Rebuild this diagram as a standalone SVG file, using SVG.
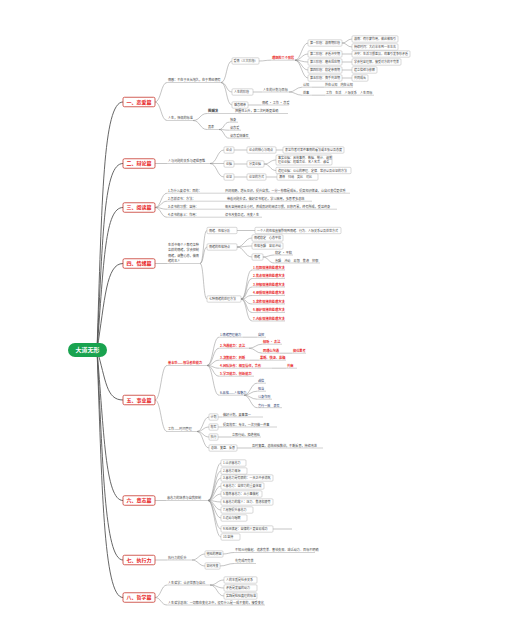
<svg xmlns="http://www.w3.org/2000/svg" width="509" height="641" viewBox="0 0 509 641">
<style>
text{font-family:"Noto Sans CJK SC","Noto Sans",sans-serif}
.K{fill:none;stroke:#555;stroke-width:.9}
.k{fill:none;stroke:#888;stroke-width:.5}
.u{stroke:#999;stroke-width:.45}
.bx{fill:#fff;stroke:#aaa;stroke-width:.45}
.mx{fill:#fff;stroke:#c8372d;stroke-width:.8}
.mt{font-size:5px;font-weight:bold;fill:#e8231e;text-anchor:middle}
.t{font-size:3px;fill:#444}
.tl{font-size:3.1px;fill:#444}
.r{font-size:3.2px;fill:#e8231e;font-weight:bold}
.n{font-size:3.1px;fill:#1f3a6e}
.b{font-size:3.4px;fill:#333;font-weight:bold}
</style>
<rect width="509" height="641" fill="#fff"/>
<g id="connectors">
<path class="K" d="M97 350C102 200 103 102 123 102"/>
<path class="K" d="M97 350C103 230 104 163.5 123 163.5"/>
<path class="K" d="M97 350C104 260 105 207.5 123 207.5"/>
<path class="K" d="M97 350C105 300 106 263.5 123 263.5"/>
<path class="K" d="M97 350C106 380 106 400 123 400"/>
<path class="K" d="M97 350C104 430 105 500.5 123 500.5"/>
<path class="K" d="M97 350C103 460 104 560 123 560"/>
<path class="K" d="M97 350C102 480 103 597.5 123 597.5"/>
<!-- 一 -->
<path class="k" d="M155 102C161 102 161 82.5 167 82.5M155 102C161 102 161 120.5 167 120.5"/>
<path class="k" d="M221 82.5C227 82.5 226 61 232 61M221 82.5C227 82.5 226 92 232 92M221 82.5C227 82.5 226 105 232 105"/>
<path class="k" d="M259 61C265 61 265 60.2 271 60.2"/>
<path class="k" d="M295 60.2C301 60.2 302 43 308 43M295 60.2C301 60.2 302 54 308 54M295 60.2C301 60.2 302 62 308 62M295 60.2C301 60.2 302 70 308 70M295 60.2C301 60.2 302 78 308 78"/>
<path class="k" d="M342 43C347 43 347 39 352 39M342 43C347 43 347 47 352 47M342 54H352M342 62H352M342 70H352M342 78H352"/>
<path class="k" d="M253 92H262M289 92C295 92 296 87.2 302 87.2M289 92C295 92 296 95.2 302 95.2M312 87.2H324M312 95.2H325M248 105H261"/>
<path class="k" d="M193 120.5C200 120.5 200 113.5 207 113.5M193 120.5C200 120.5 200 129.5 207 129.5"/>
<path class="k" d="M219 129.5C224 129.5 224 122.2 229 122.2M219 129.5C224 129.5 224 130.2 229 130.2M219 129.5C224 129.5 224 138.2 229 138.2"/>
<!-- 二 -->
<path class="k" d="M155 163.5H167M210 163.5C217 163.5 217 150 224 150M210 163.5H224M210 163.5C217 163.5 217 177 224 177"/>
<path class="k" d="M234 150H247M276 150H283M234 164H247M264 164C270 164 270 160 276 160M264 164C270 164 270 170.5 276 170.5M234 177H247M266 177H277"/>
<!-- 三 -->
<path class="k" d="M155 207.5C161 207.5 161 193.2 167 193.2M155 207.5C161 207.5 161 201.2 167 201.2M155 207.5C161 207.5 161 209.2 167 209.2M155 207.5C161 207.5 161 217.2 167 217.2"/>
<!-- 四 -->
<path class="k" d="M155 263.5H167M200 263.5C204 263.5 203 230.5 207 230.5M200 263.5C204 263.5 203 247 207 247M200 263.5C204 263.5 203 299 207 299"/>
<path class="k" d="M237 230.5H255M237 247C244 247 245 238 252 238M237 247C244 247 245 246 252 246M237 247C244 247 245 257 252 257"/>
<path class="k" d="M263 257C268 257 269 255 274 255M263 257C268 257 269 263 274 263"/>
<path class="k" d="M241 299C247 299 246 270 252 270M241 299C247 299 246 278.5 252 278.5M241 299C247 299 246 287 252 287M241 299C247 299 246 295.5 252 295.5M241 299C247 299 246 304 252 304M241 299C247 299 246 312.5 252 312.5M241 299C247 299 246 321 252 321"/>
<!-- 五 -->
<path class="k" d="M155 400C161 400 161 365.5 167 365.5M155 400C161 400 161 431.5 167 431.5"/>
<path class="k" d="M207 365.5C213 365.5 213 337.2 219 337.2M207 365.5C213 365.5 213 348.2 219 348.2M207 365.5C213 365.5 213 360.2 219 360.2M207 365.5C213 365.5 213 368.2 219 368.2M207 365.5C213 365.5 213 376.2 219 376.2M207 365.5C213 365.5 213 395.2 219 395.2"/>
<path class="k" d="M243 337.2H257M249 348.2C255 348.2 256 344.2 262 344.2M249 348.2C255 348.2 256 353.2 262 353.2M280 353.2H292M250 360.2H259M272 368.2H286"/>
<path class="k" d="M244 395.2C250 395.2 251 383.2 257 383.2M244 395.2C250 395.2 251 391.2 257 391.2M244 395.2C250 395.2 251 399.2 257 399.2M244 395.2C250 395.2 251 407.7 257 407.7"/>
<path class="k" d="M197 431.5C203 431.5 203 417 209 417M197 431.5C203 431.5 203 427 209 427M197 431.5C203 431.5 203 437 209 437M197 431.5C203 431.5 203 448 209 448"/>
<path class="k" d="M218 417H222M218 427H222M218 437H231M237 448H251"/>
<!-- 六 -->
<path class="k" d="M155 500.5H166"/>
<path class="k" d="M208 500.5C214 500.5 215 463 221 463M208 500.5C214 500.5 215 471 221 471M208 500.5C214 500.5 215 478 221 478M208 500.5C214 500.5 215 486 221 486M208 500.5C214 500.5 215 494 221 494M208 500.5C214 500.5 215 502 221 502M208 500.5C214 500.5 215 510 221 510M208 500.5C214 500.5 215 518 221 518M208 500.5C214 500.5 215 529 221 529M208 500.5C214 500.5 215 537 221 537M273 529H292"/>
<!-- 七 -->
<path class="k" d="M155 560H167M192 560C198 560 199 554 205 554M192 560C198 560 199 566 205 566M223 554C228 554 229 552.5 234 552.5M220 566C226 566 228 563.5 234 563.5"/>
<!-- 八 -->
<path class="k" d="M155 597.5C161 597.5 161 585 167 585M155 597.5C161 597.5 161 605 167 605"/>
<path class="k" d="M210 585C217 585 217 580 224 580M210 585C217 585 217 588 224 588M210 585C217 585 217 596 224 596"/>
</g>

<g id="n-root"><rect x="68" y="343" width="39" height="14" rx="7" fill="#19a34f"/><text x="87.5" y="352.2" font-size="6" font-weight="bold" fill="#fff" text-anchor="middle">大道无形</text></g>

<g id="n-1"><rect class="mx" x="123" y="97.25" width="32" height="9.5" rx="1.5"/><text class="mt" x="139" y="103.8">一、恋爱篇</text></g>
<g id="n-1-a"><text class="tl" x="168" y="81.3">情感：不在于天长地久，在于曾经拥有</text><line class="u" x1="167" y1="82.5" x2="221" y2="82.5"/></g>
<g id="n-1-a-1"><rect class="bx" x="232" y="57.8" width="27" height="6.4" rx="1"/><text class="t" x="233.5" y="62.1">爱情（三大阶段）</text></g>
<g id="n-1-a-1-r"><text class="r" x="272" y="59">理想的三个阶段</text><line class="u" x1="271" y1="60.2" x2="295" y2="60.2"/></g>
<g id="n-1-s1"><rect class="bx" x="308" y="39.8" width="34" height="6.4" rx="1"/><text class="t" x="310" y="44.1">第一阶段：激情期阶段</text></g>
<g id="n-1-s2"><rect class="bx" x="308" y="50.8" width="34" height="6.4" rx="1"/><text class="t" x="310" y="55.1">第二阶段：矛盾冲突期</text></g>
<g id="n-1-s3"><rect class="bx" x="308" y="58.8" width="34" height="6.4" rx="1"/><text class="t" x="310" y="63.1">第三阶段：磨合适应期</text></g>
<g id="n-1-s4"><rect class="bx" x="308" y="66.8" width="34" height="6.4" rx="1"/><text class="t" x="310" y="71.1">第四阶段：稳定亲情期</text></g>
<g id="n-1-s5"><rect class="bx" x="308" y="74.8" width="34" height="6.4" rx="1"/><text class="t" x="310" y="79.1">第五阶段：携手共进期</text></g>
<g id="n-1-s1a"><rect class="bx" x="352" y="35.8" width="46" height="6.4" rx="1"/><text class="t" x="354" y="40.1">激情：荷尔蒙作用，彼此被吸引</text></g>
<g id="n-1-s1b"><rect class="bx" x="352" y="43.8" width="46" height="6.4" rx="1"/><text class="t" x="354" y="48.1">持续时间：大约半年到一年左右</text></g>
<g id="n-1-s2a"><rect class="bx" x="352" y="50.8" width="58" height="6.4" rx="1"/><text class="t" x="354" y="55.1">冲突：生活习惯差异，琐事引发争吵矛盾</text></g>
<g id="n-1-s3a"><rect class="bx" x="352" y="58.8" width="49" height="6.4" rx="1"/><text class="t" x="354" y="63.1">学会包容理解，接受对方的不完美</text></g>
<g id="n-1-s4a"><rect class="bx" x="352" y="66.8" width="25" height="6.4" rx="1"/><text class="t" x="354" y="71.1">建立信任与依赖</text></g>
<g id="n-1-s5a"><rect class="bx" x="352" y="74.8" width="16" height="6.4" rx="1"/><text class="t" x="354" y="79.1">共同成长</text></g>
<g id="n-1-a-2"><rect class="bx" x="232" y="88.8" width="21" height="6.4" rx="1"/><text class="t" x="234" y="93.1">人生的阶段</text></g>
<g id="n-1-a-2a"><text class="tl" x="263" y="90.8">人生的计划与目标</text><line class="u" x1="262" y1="92" x2="289" y2="92"/></g>
<g id="n-1-a-2b"><text class="tl" x="303" y="86">认知</text><line class="u" x1="302" y1="87.2" x2="312" y2="87.2"/><text class="tl" x="325" y="86">外在认知　内在认知</text><line class="u" x1="324" y1="87.2" x2="353" y2="87.2"/></g>
<g id="n-1-a-2c"><text class="tl" x="303" y="94">处事</text><line class="u" x1="302" y1="95.2" x2="312" y2="95.2"/><text class="tl" x="326" y="94">工作　生活　人际关系　人生目标</text><line class="u" x1="325" y1="95.2" x2="374" y2="95.2"/></g>
<g id="n-1-a-3"><rect class="bx" x="232" y="101.8" width="16" height="6.4" rx="1"/><text class="t" x="234" y="106.1">婚恋相亲</text></g>
<g id="n-1-a-3a"><text class="tl" x="262" y="103.8">情绪 · 工作 · 恋爱</text><line class="u" x1="261" y1="105" x2="289" y2="105"/></g>
<g id="n-1-b"><text class="tl" x="168" y="119.3">人生，择偶的标准</text><line class="u" x1="167" y1="120.5" x2="193" y2="120.5"/></g>
<g id="n-1-b-1"><text class="b" x="208" y="112.3">图解法</text><text class="tl" x="235" y="112.3" font-size="3.4">把握性上升，第二次判断更准确</text><line class="u" x1="207" y1="113.5" x2="288" y2="113.5"/></g>
<g id="n-1-b-2"><text class="tl" x="208" y="128.3">其表</text><line class="u" x1="207" y1="129.5" x2="219" y2="129.5"/></g>
<g id="n-1-b-2a"><text class="tl" x="230" y="121">独身</text><line class="u" x1="229" y1="122.2" x2="238" y2="122.2"/></g>
<g id="n-1-b-2b"><text class="tl" x="230" y="129">谈恋爱</text><line class="u" x1="229" y1="130.2" x2="241" y2="130.2"/></g>
<g id="n-1-b-2c"><text class="tl" x="230" y="137">谈恋爱结婚率</text><line class="u" x1="229" y1="138.2" x2="250" y2="138.2"/></g>

<g id="n-2"><rect class="mx" x="123" y="158.75" width="32" height="9.5" rx="1.5"/><text class="mt" x="139" y="165.3">二、辩论篇</text></g>
<g id="n-2-a"><text class="tl" x="168" y="162.3">人与问题的关系与逻辑思维</text><line class="u" x1="167" y1="163.5" x2="210" y2="163.5"/></g>
<g id="n-2-1"><rect class="bx" x="224" y="146.8" width="10" height="6.4" rx="1"/><text class="t" x="226" y="151.1">论点</text></g>
<g id="n-2-1a"><rect class="bx" x="247" y="146.8" width="29" height="6.4" rx="1"/><text class="t" x="249" y="151.1">论点的核心与观点</text></g>
<g id="n-2-1b"><rect class="bx" x="283" y="146.8" width="61" height="6.4" rx="1"/><text class="t" x="285" y="151.1">表达作者对某件事情的看法或主张以及态度</text></g>
<g id="n-2-2"><rect class="bx" x="224" y="160.8" width="10" height="6.4" rx="1"/><text class="t" x="226" y="165.1">论据</text></g>
<g id="n-2-2a"><rect class="bx" x="247" y="160.8" width="17" height="6.4" rx="1"/><text class="t" x="249" y="165.1">分类论据</text></g>
<g id="n-2-2b"><rect class="bx" x="276" y="155" width="56" height="10" rx="1"/><text class="t" x="278" y="159">事实论据：具体事例、数据、统计、调查</text><text class="t" x="278" y="163.3">理论论据：权威言论、名人名言、谚语</text></g>
<g id="n-2-2c"><rect class="bx" x="276" y="167.3" width="75" height="6.4" rx="1"/><text class="t" x="278" y="171.6">道理论据：公认的原理、定律、常识以及论证的方法</text></g>
<g id="n-2-3"><rect class="bx" x="224" y="173.8" width="10" height="6.4" rx="1"/><text class="t" x="226" y="178.1">论证</text></g>
<g id="n-2-3a"><rect class="bx" x="247" y="173.8" width="19" height="6.4" rx="1"/><text class="t" x="249" y="178.1">论证的方式</text></g>
<g id="n-2-3b"><rect class="bx" x="277" y="173.8" width="41" height="6.4" rx="1"/><text class="t" x="279" y="178.1">演绎　归纳　类比　对比</text></g>

<g id="n-3"><rect class="mx" x="123" y="202.75" width="32" height="9.5" rx="1.5"/><text class="mt" x="139" y="209.3">三、阅读篇</text></g>
<g id="n-3-1"><text class="tl" x="168" y="192">1.为什么要读书：目的：</text><text class="tl" x="225" y="192">开阔视野，增长见识，提升自我，一分一秒都是成长，提高知识储备，让自己变得更优秀</text><line class="u" x1="167" y1="193.2" x2="350" y2="193.2"/></g>
<g id="n-3-2"><text class="tl" x="168" y="200">2.怎样读书：方法：</text><text class="tl" x="227" y="200">带着问题去读，做好读书笔记，学以致用，多思考多总结</text><line class="u" x1="167" y1="201.2" x2="312" y2="201.2"/></g>
<g id="n-3-3"><text class="tl" x="168" y="208">3.读书的习惯：坚持：</text><text class="tl" x="225" y="208">每天坚持阅读半小时，养成良好的阅读习惯，日积月累，终有所成，受益终身</text><line class="u" x1="167" y1="209.2" x2="337" y2="209.2"/></g>
<g id="n-3-4"><text class="tl" x="168" y="216">4.读书的意义：作用：</text><text class="tl" x="225" y="216">读书改变命运，改变人生</text><line class="u" x1="167" y1="217.2" x2="262" y2="217.2"/></g>

<g id="n-4"><rect class="mx" x="123" y="258.75" width="32" height="9.5" rx="1.5"/><text class="mt" x="139" y="265.3">四、情绪篇</text></g>
<g id="n-4-a"><text class="tl" x="168" y="246">生活中每个人都有各种</text><text class="tl" x="168" y="251.4">各样的情绪，学会控制</text><text class="tl" x="168" y="256.8">情绪，调整心态，做情</text><text class="tl" x="168" y="262.2">绪的主人</text><line class="u" x1="167" y1="263.5" x2="200" y2="263.5"/></g>
<g id="n-4-1"><rect class="bx" x="207" y="227.3" width="30" height="6.4" rx="1"/><text class="t" x="209" y="231.6">情绪、性格分析</text></g>
<g id="n-4-1a"><rect class="bx" x="255" y="227.3" width="86" height="6.4" rx="1"/><text class="t" x="257" y="231.6">一个人的性格直接影响到情绪、行为、人际关系以及处世方式</text></g>
<g id="n-4-2"><rect class="bx" x="207" y="243.8" width="30" height="6.4" rx="1"/><text class="t" x="209" y="248.1">情绪的性格特点</text></g>
<g id="n-4-2a"><rect class="bx" x="252" y="234.8" width="31" height="6.4" rx="1"/><text class="t" x="254" y="239.1">情绪稳定　心态平和</text></g>
<g id="n-4-2b"><rect class="bx" x="252" y="242.8" width="31" height="6.4" rx="1"/><text class="t" x="254" y="247.1">性格急躁　容易冲动</text></g>
<g id="n-4-2c"><rect class="bx" x="252" y="253.8" width="11" height="6.4" rx="1"/><text class="t" x="254" y="258.1">情绪</text></g>
<g id="n-4-2c1"><text class="tl" x="275" y="253.8">稳定 · 平和</text><line class="u" x1="274" y1="255" x2="293" y2="255"/></g>
<g id="n-4-2c2"><text class="tl" x="275" y="261.8">急躁　冲动　易怒　焦虑　抑郁</text><line class="u" x1="274" y1="263" x2="320" y2="263"/></g>
<g id="n-4-3"><rect class="bx" x="207" y="295.8" width="34" height="6.4" rx="1"/><text class="t" x="209" y="300.1">七种情绪的处理方法</text></g>
<g id="n-4-3r">
<text class="r" x="253" y="268.8">1.愤怒情绪的处理方法</text><line class="u" x1="252" y1="270" x2="285" y2="270"/>
<text class="r" x="253" y="277.3">2.焦虑情绪的处理方法</text><line class="u" x1="252" y1="278.5" x2="285" y2="278.5"/>
<text class="r" x="253" y="285.8">3.抑郁情绪的处理方法</text><line class="u" x1="252" y1="287" x2="285" y2="287"/>
<text class="r" x="253" y="294.3">4.恐惧情绪的处理方法</text><line class="u" x1="252" y1="295.5" x2="285" y2="295.5"/>
<text class="r" x="253" y="302.8">5.悲伤情绪的处理方法</text><line class="u" x1="252" y1="304" x2="285" y2="304"/>
<text class="r" x="253" y="311.3">6.嫉妒情绪的处理方法</text><line class="u" x1="252" y1="312.5" x2="285" y2="312.5"/>
<text class="r" x="253" y="319.8">7.内疚情绪的处理方法</text><line class="u" x1="252" y1="321" x2="285" y2="321"/>
</g>

<g id="n-5"><rect class="mx" x="123" y="395.25" width="32" height="9.5" rx="1.5"/><text class="mt" x="139" y="401.8">五、事业篇</text></g>
<g id="n-5-a"><text class="r" x="168" y="364.3">基本功——领导者的能力</text><line class="u" x1="167" y1="365.5" x2="207" y2="365.5"/></g>
<g id="n-5-a1"><text class="n" x="220" y="336">1.情绪管理能力</text><line class="u" x1="219" y1="337.2" x2="243" y2="337.2"/><text class="n" x="258" y="336">自控</text><line class="u" x1="257" y1="337.2" x2="266" y2="337.2"/></g>
<g id="n-5-a2"><text class="r" x="220" y="347">2.沟通能力：表达</text><line class="u" x1="219" y1="348.2" x2="249" y2="348.2"/>
<text class="r" x="263" y="343">倾听 · 表达</text><line class="u" x1="262" y1="344.2" x2="282" y2="344.2"/>
<text class="r" x="263" y="352">同理心沟通</text><line class="u" x1="262" y1="353.2" x2="280" y2="353.2"/>
<text class="r" x="293" y="352">换位思考</text><line class="u" x1="292" y1="353.2" x2="306" y2="353.2"/></g>
<g id="n-5-a3"><text class="r" x="220" y="359">3.决策能力：判断</text><line class="u" x1="219" y1="360.2" x2="250" y2="360.2"/><text class="r" x="260" y="359">果断、快速、准确</text><line class="u" x1="259" y1="360.2" x2="286" y2="360.2"/></g>
<g id="n-5-a4"><text class="r" x="220" y="367">4.团队协作：相互信任，合作</text><line class="u" x1="219" y1="368.2" x2="272" y2="368.2"/><text class="r" x="287" y="367">共赢</text><line class="u" x1="286" y1="368.2" x2="297" y2="368.2"/></g>
<g id="n-5-a5"><text class="r" x="220" y="375">5.学习能力、创新能力</text><line class="u" x1="219" y1="376.2" x2="254" y2="376.2"/></g>
<g id="n-5-a6"><text class="n" x="220" y="394">6.品格——人格魅力</text><line class="u" x1="219" y1="395.2" x2="244" y2="395.2"/>
<text class="n" x="258" y="382">诚信</text><line class="u" x1="257" y1="383.2" x2="266" y2="383.2"/>
<text class="n" x="258" y="390">担当</text><line class="u" x1="257" y1="391.2" x2="266" y2="391.2"/>
<text class="n" x="258" y="398">以身作则</text><line class="u" x1="257" y1="399.2" x2="272" y2="399.2"/>
<text class="n" x="258" y="406.5">言行一致　表率</text><line class="u" x1="257" y1="407.7" x2="282" y2="407.7"/></g>
<g id="n-5-b"><text class="tl" x="168" y="430.3">工作——时间管理</text><line class="u" x1="167" y1="431.5" x2="197" y2="431.5"/></g>
<g id="n-5-b1"><rect class="bx" x="209" y="413.8" width="9" height="6.4" rx="1"/><text class="t" x="210.5" y="418.1">计划</text><text class="tl" x="223" y="415.8">做好计划，要事第一</text><line class="u" x1="222" y1="417" x2="263" y2="417"/></g>
<g id="n-5-b2"><rect class="bx" x="209" y="423.8" width="9" height="6.4" rx="1"/><text class="t" x="210.5" y="428.1">效率</text><text class="tl" x="223" y="425.8">提高效率：专注，一次只做一件事</text><line class="u" x1="222" y1="427" x2="277" y2="427"/></g>
<g id="n-5-b3"><rect class="bx" x="209" y="433.8" width="9" height="6.4" rx="1"/><text class="t" x="210.5" y="438.1">执行</text><text class="tl" x="232" y="435.8">立即行动，拒绝拖延</text><line class="u" x1="231" y1="437" x2="261" y2="437"/></g>
<g id="n-5-b4"><rect class="bx" x="209" y="444.8" width="28" height="6.4" rx="1"/><text class="t" x="211" y="449.1">总结、复盘、反思</text><text class="tl" x="252" y="446.8">及时复盘，总结经验教训，不断反思，持续改进</text><line class="u" x1="251" y1="448" x2="323" y2="448"/></g>

<g id="n-6"><rect class="mx" x="123" y="495.75" width="32" height="9.5" rx="1.5"/><text class="mt" x="139" y="502.3">六、意志篇</text></g>
<g id="n-6-a"><text class="tl" x="167" y="499.3">意志力的培养与自我控制</text><line class="u" x1="166" y1="500.5" x2="208" y2="500.5"/></g>
<g id="n-6-1"><rect class="bx" x="221" y="459.8" width="25" height="6.4" rx="1"/><text class="t" x="223" y="464.1">1.认识意志力</text></g>
<g id="n-6-2"><rect class="bx" x="221" y="467.8" width="26" height="6.4" rx="1"/><text class="t" x="223" y="472.1">2.意志力来源</text></g>
<g id="n-6-3"><rect class="bx" x="221" y="474.8" width="52" height="6.4" rx="1"/><text class="t" x="223" y="479.1">3.意志力是有限的：一天之中会消耗</text></g>
<g id="n-6-4"><rect class="bx" x="221" y="482.8" width="43" height="6.4" rx="1"/><text class="t" x="223" y="487.1">4.意志力：自控力的重要体现</text></g>
<g id="n-6-5"><rect class="bx" x="221" y="490.8" width="41" height="6.4" rx="1"/><text class="t" x="223" y="495.1">5.锻炼意志力：从小事做起</text></g>
<g id="n-6-6"><rect class="bx" x="221" y="498.8" width="52" height="6.4" rx="1"/><text class="t" x="223" y="503.1">6.意志力的敌人：压力、焦虑和疲劳</text></g>
<g id="n-6-7"><rect class="bx" x="221" y="506.8" width="32" height="6.4" rx="1"/><text class="t" x="223" y="511.1">7.冥想提升意志力</text></g>
<g id="n-6-8"><rect class="bx" x="221" y="514.8" width="26" height="6.4" rx="1"/><text class="t" x="223" y="519.1">8.运动与睡眠</text></g>
<g id="n-6-9"><rect class="bx" x="221" y="525.8" width="52" height="6.4" rx="1"/><text class="t" x="223" y="530.1">9.延迟满足：自律的人更容易成功</text></g>
<g id="n-6-10"><rect class="bx" x="221" y="533.8" width="19" height="6.4" rx="1"/><text class="t" x="223" y="538.1">10.坚持</text></g>

<g id="n-7"><rect class="mx" x="123" y="555.25" width="32" height="9.5" rx="1.5"/><text class="mt" x="139" y="561.8">七、执行力</text></g>
<g id="n-7-a"><text class="tl" x="168" y="558.8">执行力的提升</text><line class="u" x1="167" y1="560" x2="192" y2="560"/></g>
<g id="n-7-1"><rect class="bx" x="205" y="550.8" width="18" height="6.4" rx="1"/><text class="t" x="206.5" y="555.1">拖延的原因</text><text class="tl" x="235" y="551.3">不知从何做起、追求完美、害怕失败、缺乏动力、目标不明确</text><line class="u" x1="234" y1="552.5" x2="315" y2="552.5"/></g>
<g id="n-7-2"><rect class="bx" x="205" y="562.8" width="15" height="6.4" rx="1"/><text class="t" x="206.5" y="567.1">如何改变</text><text class="tl" x="235" y="562.3">先完成再完美</text><line class="u" x1="234" y1="563.5" x2="256" y2="563.5"/></g>

<g id="n-8"><rect class="mx" x="123" y="592.75" width="32" height="9.5" rx="1.5"/><text class="mt" x="139" y="599.3">八、哲学篇</text></g>
<g id="n-8-a"><text class="tl" x="168" y="583.8">人生哲学：认识世界与自己</text><line class="u" x1="167" y1="585" x2="210" y2="585"/></g>
<g id="n-8-a1"><rect class="bx" x="224" y="576.8" width="33" height="6.4" rx="1"/><text class="t" x="226" y="581.1">人的本质是社会关系</text></g>
<g id="n-8-a2"><rect class="bx" x="224" y="584.8" width="33" height="6.4" rx="1"/><text class="t" x="226" y="589.1">矛盾是发展的动力</text></g>
<g id="n-8-a3"><rect class="bx" x="224" y="592.8" width="33" height="6.4" rx="1"/><text class="t" x="226" y="597.1">实践是检验真理的标准</text></g>
<g id="n-8-b"><text class="tl" x="168" y="603.8">人生哲学总结：一切都在变化之中，没有什么是一成不变的，接受变化</text><line class="u" x1="167" y1="605" x2="265" y2="605"/></g>
</svg>
